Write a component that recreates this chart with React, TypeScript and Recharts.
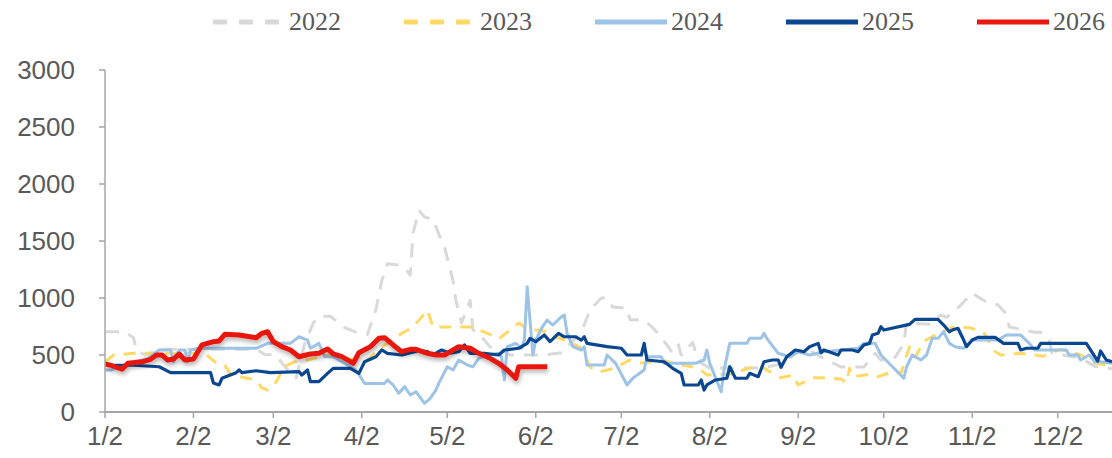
import React from "react";
import { LineChart, Line, XAxis, YAxis } from "recharts";

// x = days counted from Jan 2
const monthTicks = [0, 31, 59, 90, 120, 151, 181, 212, 243, 273, 304, 334];
const monthLabels = ["1/2", "2/2", "3/2", "4/2", "5/2", "6/2", "7/2", "8/2", "9/2", "10/2", "11/2", "12/2"];
const yTicks = [0, 500, 1000, 1500, 2000, 2500, 3000];

const s2022: [number, number][] = [
  [0, 704], [7, 704], [10, 650], [11, 540], [14, 500], [20, 550], [25, 550], [33, 550], [44, 550], [53, 550],
  [56, 505], [60, 500], [62, 430], [65, 340], [67, 300], [70, 600], [73, 780], [75, 840], [79, 840], [84, 740],
  [88, 700], [92, 680], [95, 900], [97, 1150], [99, 1300], [103, 1290], [105, 1270], [107, 1200], [108, 1570],
  [110, 1770], [112, 1710], [115, 1690], [117, 1560], [119, 1450], [122, 1150], [123, 980], [125, 780], [128, 980],
  [129, 720], [131, 690], [135, 570], [138, 560], [142, 500], [154, 500], [160, 520], [167, 700], [170, 895],
  [174, 1000], [176, 1000], [178, 920], [183, 910], [184, 810], [189, 807], [192, 740], [195, 650], [197, 588],
  [199, 515], [201, 590], [202, 500], [206, 610], [207, 530], [209, 430], [212, 385], [230, 385], [237, 420],
  [244, 544], [248, 525], [253, 456], [258, 395], [266, 395], [270, 515], [272, 456], [277, 480], [280, 600],
  [281, 780], [289, 770], [293, 850], [295, 830], [298, 890], [300, 938], [304, 1045], [306, 1010], [310, 950],
  [313, 940], [316, 860], [317, 745], [326, 700], [328, 700], [331, 630], [332, 515], [342, 473], [347, 400],
  [353, 380],
];

const s2023: [number, number][] = [
  [0, 440], [3, 500], [10, 515], [14, 515], [23, 515], [35, 515], [39, 430], [42, 410], [44, 330], [49, 300],
  [53, 280], [55, 210], [57, 193], [59, 220], [63, 400], [68, 456], [71, 456], [78, 500], [84, 480], [91, 430],
  [96, 550], [104, 690], [108, 745], [111, 833], [113, 895], [115, 745], [129, 745], [131, 720], [135, 680],
  [137, 650], [138, 640], [141, 700], [145, 780], [147, 745], [151, 720], [156, 700], [158, 660], [164, 600],
  [167, 560], [170, 395], [173, 350], [178, 380], [184, 455], [188, 430], [196, 450], [199, 430], [208, 385],
  [211, 325], [219, 330], [229, 410], [231, 385], [235, 325], [237, 300], [241, 325], [243, 237], [248, 300],
  [252, 300], [258, 290], [260, 255], [261, 385], [262, 310], [268, 330], [271, 310], [277, 360], [279, 340],
  [282, 570], [284, 480], [287, 620], [293, 700], [298, 750], [303, 740], [308, 700], [312, 530], [314, 500],
  [321, 515], [329, 490], [335, 550], [342, 500], [347, 430], [353, 400],
];

const s2024: [number, number][] = [
  [0, 368], [2, 368], [5, 397], [15, 471], [19, 544], [23, 544], [24, 441], [26, 544], [28, 544], [29, 441],
  [30, 544], [33, 559], [53, 559], [57, 602], [65, 602], [68, 660], [71, 631], [72, 559], [75, 602], [77, 485],
  [80, 485], [81, 471], [88, 368], [91, 251], [98, 251], [99, 281], [101, 237], [103, 164], [105, 222],
  [107, 149], [109, 178], [112, 76], [114, 120], [116, 193], [117, 251], [120, 397], [122, 368], [124, 456],
  [127, 412], [129, 397], [131, 471], [134, 500], [138, 515], [139, 485], [140, 281], [141, 573], [144, 602],
  [146, 559], [147, 631], [148, 1099], [150, 500], [151, 631], [153, 734], [155, 807], [157, 763], [160, 836],
  [161, 851], [162, 690], [164, 573], [167, 544], [168, 573], [169, 412], [175, 412], [176, 500], [179, 427],
  [183, 237], [185, 296], [189, 368], [190, 485], [195, 485], [196, 427], [207, 427], [210, 456], [211, 544],
  [212, 427], [216, 178], [217, 368], [219, 602], [225, 602], [226, 646], [230, 646], [231, 690], [232, 646],
  [236, 515], [240, 485], [243, 529], [247, 500], [252, 529], [258, 544], [264, 559], [266, 602], [270, 602],
  [272, 500], [280, 296], [281, 397], [283, 500], [286, 456], [288, 500], [290, 646], [292, 646], [294, 704],
  [296, 602], [298, 573], [301, 559], [304, 631], [313, 631], [316, 675], [321, 675], [324, 602], [326, 544],
  [337, 544], [338, 500], [341, 500], [342, 456], [345, 500], [347, 441], [349, 441], [353, 427],
];

const s2025: [number, number][] = [
  [0, 430], [2, 410], [10, 410], [19, 397], [23, 345], [37, 345], [38, 254], [40, 237], [41, 296], [43, 316],
  [46, 345], [47, 368], [48, 345], [53, 362], [58, 345], [68, 354], [69, 324], [71, 368], [72, 266], [75, 266],
  [78, 339], [80, 383], [86, 383], [89, 339], [91, 441], [95, 485], [97, 544], [99, 515], [104, 500], [110, 538],
  [113, 529], [115, 500], [118, 544], [121, 515], [124, 529], [126, 588], [128, 515], [133, 515], [138, 500],
  [140, 544], [145, 559], [148, 602], [149, 646], [151, 617], [154, 675], [156, 617], [159, 690], [161, 660],
  [165, 660], [167, 631], [168, 660], [169, 602], [176, 573], [181, 559], [183, 500], [188, 500], [189, 602],
  [190, 456], [196, 441], [199, 383], [202, 339], [203, 237], [208, 237], [209, 281], [210, 193], [211, 237],
  [214, 281], [218, 296], [219, 397], [221, 296], [225, 296], [226, 339], [229, 310], [231, 441], [234, 456],
  [236, 456], [237, 392], [238, 441], [239, 485], [242, 544], [245, 529], [247, 573], [250, 602], [251, 520],
  [252, 544], [257, 500], [258, 544], [262, 544], [264, 529], [266, 588], [268, 602], [269, 675], [271, 690],
  [272, 748], [273, 719], [282, 769], [284, 813], [292, 813], [294, 763], [296, 704], [297, 719], [299, 734],
  [301, 631], [302, 573], [304, 631], [306, 655], [312, 655], [315, 602], [320, 602], [321, 544], [323, 559],
  [327, 559], [328, 602], [344, 602], [348, 447], [349, 535], [351, 456], [353, 441],
];

const s2026: [number, number][] = [
  [0, 420], [2, 410], [6, 375], [8, 427], [13, 440], [16, 462], [18, 500], [20, 500], [22, 456], [24, 465],
  [26, 508], [28, 456], [31, 465], [34, 588], [38, 617], [40, 623], [42, 681], [47, 675], [53, 652], [55, 690],
  [57, 704], [59, 617], [62, 573], [65, 544], [68, 485], [72, 509], [75, 515], [78, 553], [80, 509], [83, 485],
  [87, 427], [89, 520], [93, 573], [96, 646], [98, 652], [101, 588], [104, 529], [107, 550], [109, 550],
  [113, 515], [116, 500], [119, 500], [121, 529], [124, 573], [128, 559], [131, 515], [135, 471], [138, 427],
  [141, 368], [144, 296], [145, 397], [155, 397],
];

const toRows = (pts: [number, number][]) => pts.map(([d, v]) => ({ d, v }));

const series = [
  { name: "2022", pts: s2022, color: "#d9d9d9", width: 3, dash: "14 10", legendDash: "14 12", shadow: false },
  { name: "2023", pts: s2023, color: "#ffd966", width: 3, dash: "12 9", legendDash: "14 12", shadow: false },
  { name: "2024", pts: s2024, color: "#9dc3e6", width: 3, dash: undefined, legendDash: undefined, shadow: false },
  { name: "2025", pts: s2025, color: "#0a4790", width: 3.2, dash: undefined, legendDash: undefined, shadow: false },
  { name: "2026", pts: s2026, color: "#e8190f", width: 5, dash: undefined, legendDash: undefined, shadow: true },
];

const axisColor = "#a6a6a6";
const tickFont = { fontSize: 26, fill: "#595959", fontFamily: "'Liberation Sans', Arial, sans-serif" };

const LegendRow = () => (
  <div style={{ position: "absolute", top: 0, left: 0, width: 1112, height: 44 }}>
    {series.map((s, i) => (
      <div
        key={s.name}
        style={{ position: "absolute", left: 212 + i * 191, top: 4, display: "flex", alignItems: "center", height: 36 }}
      >
        <svg width={74} height={10}>
          <line x1={1} y1={5} x2={73} y2={5} stroke={s.color} strokeWidth={5} strokeDasharray={s.legendDash} />
        </svg>
        <span
          style={{
            marginLeft: 3,
            fontFamily: "'Liberation Serif', 'Times New Roman', serif",
            fontSize: 26,
            color: "#595959",
            lineHeight: "36px",
          }}
        >
          {s.name}
        </span>
      </div>
    ))}
  </div>
);

export default function App() {
  return (
    <div style={{ position: "absolute", left: 0, top: 0, width: 1112, height: 458, background: "#fff" }}>
      <LineChart width={1112} height={458} margin={{ top: 70, right: 0, bottom: 0, left: 0 }}>
        <defs>
          <filter id="lineShadow" x="-5%" y="-20%" width="110%" height="150%">
            <feDropShadow dx="1" dy="3" stdDeviation="2" floodColor="#000" floodOpacity="0.3" />
          </filter>
        </defs>
        <XAxis
          dataKey="d"
          type="number"
          domain={[0, 353]}
          allowDataOverflow
          ticks={monthTicks}
          tickFormatter={(d: number) => monthLabels[monthTicks.indexOf(d)] ?? ""}
          interval={0}
          height={46}
          tick={tickFont}
          tickSize={6}
          tickMargin={9}
          axisLine={{ stroke: axisColor, strokeWidth: 2 }}
          tickLine={{ stroke: axisColor, strokeWidth: 1.5 }}
        />
        <YAxis
          type="number"
          domain={[0, 3000]}
          ticks={yTicks}
          interval={0}
          width={105}
          tick={tickFont}
          tickSize={6}
          tickMargin={24}
          axisLine={{ stroke: axisColor, strokeWidth: 1.5 }}
          tickLine={{ stroke: axisColor, strokeWidth: 1.5 }}
        />
        {series.map((s) => (
          <Line
            key={s.name}
            data={toRows(s.pts)}
            dataKey="v"
            name={s.name}
            type="linear"
            stroke={s.color}
            strokeWidth={s.width}
            strokeDasharray={s.dash}
            strokeLinejoin="round"
            filter={s.shadow ? "url(#lineShadow)" : undefined}
            dot={false}
            activeDot={false}
            isAnimationActive={false}
          />
        ))}
      </LineChart>
      <LegendRow />
    </div>
  );
}
